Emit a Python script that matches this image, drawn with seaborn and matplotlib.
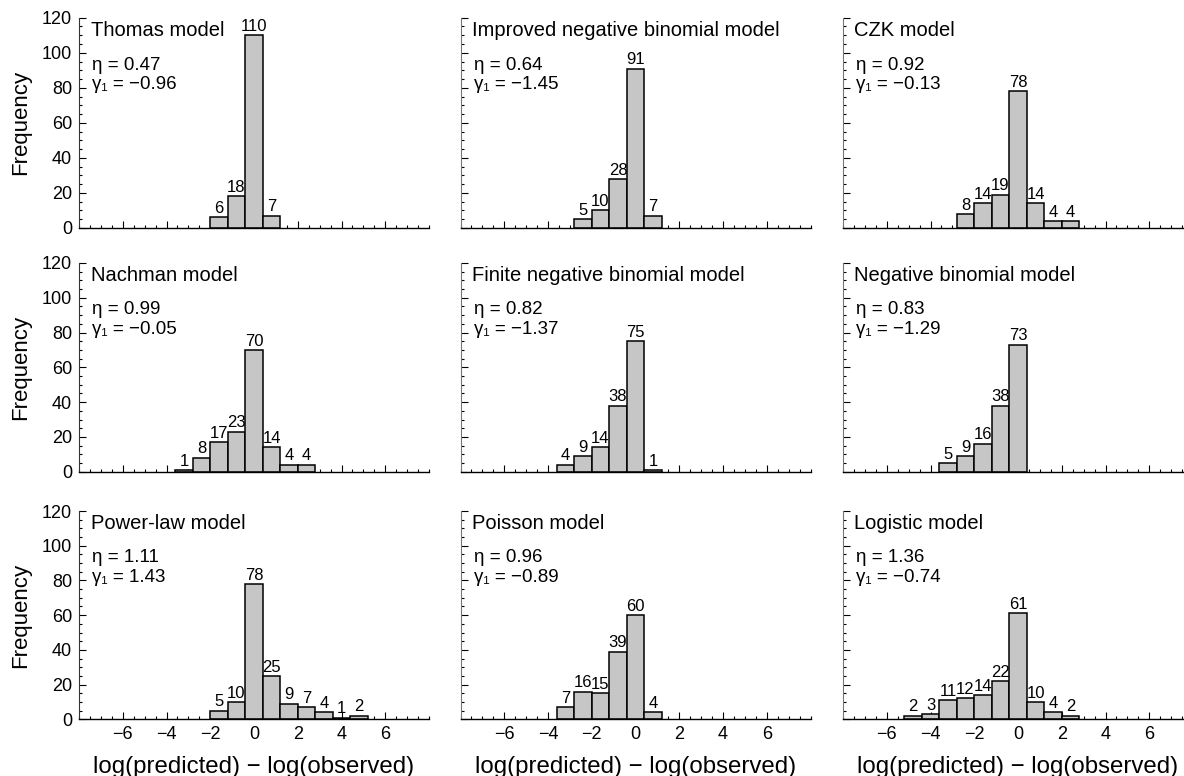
import numpy as np
import pandas as pd
import matplotlib
matplotlib.use("Agg")
import matplotlib.pyplot as plt
import seaborn as sns
from matplotlib.ticker import MultipleLocator

# ---------------- data ----------------
bin_centers = [-4.8, -4.0, -3.2, -2.4, -1.6, -0.8, 0.0, 0.8, 1.6, 2.4, 3.2, 4.0, 4.8]
bin_width = 0.8

model_names = ["Thomas model", "Improved negative binomial model", "CZK model",
               "Nachman model", "Finite negative binomial model", "Negative binomial model",
               "Power-law model", "Poisson model", "Logistic model"]
eta_values = ["0.47", "0.64", "0.92", "0.99", "0.82", "0.83", "1.11", "0.96", "1.36"]
gamma_values = ["\u22120.96", "\u22121.45", "\u22120.13", "\u22120.05", "\u22121.37",
                "\u22121.29", "1.43", "\u22120.89", "\u22120.74"]

thomas       = [0, 0, 0, 0, 6, 18, 110, 7, 0, 0, 0, 0, 0]
improved_nb  = [0, 0, 0, 5, 10, 28, 91, 7, 0, 0, 0, 0, 0]
czk          = [0, 0, 0, 8, 14, 19, 78, 14, 4, 4, 0, 0, 0]
nachman      = [0, 0, 1, 8, 17, 23, 70, 14, 4, 4, 0, 0, 0]
finite_nb    = [0, 0, 4, 9, 14, 38, 75, 1, 0, 0, 0, 0, 0]
neg_binomial = [0, 0, 5, 9, 16, 38, 73, 0, 0, 0, 0, 0, 0]
power_law    = [0, 0, 0, 0, 5, 10, 78, 25, 9, 7, 4, 1, 2]
poisson      = [0, 0, 7, 16, 15, 39, 60, 4, 0, 0, 0, 0, 0]
logistic     = [2, 3, 11, 12, 14, 22, 61, 10, 4, 2, 0, 0, 0]

all_counts = [thomas, improved_nb, czk, nachman, finite_nb, neg_binomial,
              power_law, poisson, logistic]

x_ticks = [-6, -4, -2, 0, 2, 4, 6]
y_ticks = [0, 20, 40, 60, 80, 100, 120]
x_label = "log(predicted) \u2212 log(observed)"
y_label = "Frequency"

# ---------------- style ----------------
sns.set_theme(style="ticks")
plt.rcParams["font.family"] = ["Liberation Sans", "DejaVu Sans"]
plt.rcParams["axes.unicode_minus"] = True
for key in ["text.color", "axes.labelcolor", "xtick.color", "ytick.color",
            "xtick.labelcolor", "ytick.labelcolor"]:
    plt.rcParams[key] = "black"

W, H = 1184, 776
fig = plt.figure(figsize=(W / 100, H / 100), dpi=100)

col_px = [(79, 429), (460.5, 810.5), (843, 1184)]
row_px = [(17.7, 228), (263, 471.7), (511, 719.3)]
label_center_px = [254, 636, 1018]
units_per_px = 16 / 350.0

brange = (bin_centers[0] - bin_width / 2, bin_centers[-1] + bin_width / 2)

for i, counts in enumerate(all_counts):
    r, c = divmod(i, 3)
    x0, x1 = col_px[c]
    t, b = row_px[r]
    ax = fig.add_axes([x0 / W, 1 - b / H, (x1 - x0) / W, (b - t) / H])

    df = pd.DataFrame({"x": bin_centers, "w": counts})
    sns.histplot(data=df, x="x", weights="w", binwidth=bin_width, binrange=brange,
                 ax=ax, color="#c6c6c6", edgecolor="black", linewidth=1.1, alpha=1.0)
    for p in ax.patches:
        if p.get_height() == 0:
            p.set_visible(False)
    heights = [p.get_height() for p in ax.containers[0]]
    ax.bar_label(ax.containers[0],
                 labels=[str(int(round(h))) if h > 0 else "" for h in heights],
                 padding=1, fontsize=12)

    ax.set_xlim(-8, -8 + (x1 - x0) * units_per_px)
    ax.set_ylim(0, 120)
    ax.set_xticks(x_ticks)
    ax.set_yticks(y_ticks)
    ax.xaxis.set_minor_locator(MultipleLocator(0.5))
    ax.yaxis.set_minor_locator(MultipleLocator(5))
    ax.tick_params(which="both", direction="in", top=False, right=False,
                   color="black", width=0.8)
    ax.tick_params(which="major", length=5, labelsize=13, pad=5)
    ax.tick_params(which="minor", length=2.5)

    for s in ["top", "right"]:
        ax.spines[s].set_visible(False)
    ax.spines["bottom"].set_color("black")
    ax.spines["bottom"].set_linewidth(1.0)
    ax.spines["left"].set_color("#333333" if c == 0 else "#777777")
    ax.spines["left"].set_linewidth(0.8)

    ax.set_ylabel("")
    ax.set_xlabel("")
    if c == 0:
        ax.set_ylabel(y_label, fontsize=16, labelpad=8)
    else:
        ax.tick_params(labelleft=False)
    if r == 2:
        ax.set_xlabel(x_label, fontsize=17.3)
        lx = (label_center_px[c] - x0) / (x1 - x0)
        ly = -(767 - b) / (b - t)
        ax.xaxis.set_label_coords(lx, ly)
        ax.xaxis.label.set_va("center")
    else:
        ax.tick_params(labelbottom=False)

    ax.text(0.033, 0.985, model_names[i], transform=ax.transAxes,
            ha="left", va="top", fontsize=14.5)
    ax.text(0.038, 0.775, "\u03b7 = " + eta_values[i], transform=ax.transAxes,
            ha="left", va="center", fontsize=13.5)
    ax.text(0.038, 0.68, "\u03b3\u2081 = " + gamma_values[i], transform=ax.transAxes,
            ha="left", va="center", fontsize=13.5)

fig.savefig("out.png", dpi=100)
